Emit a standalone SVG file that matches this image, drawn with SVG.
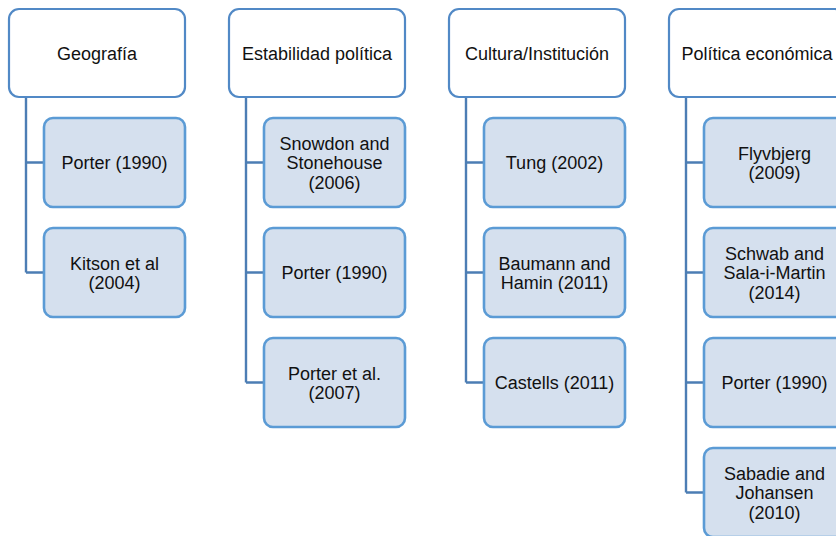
<svg xmlns="http://www.w3.org/2000/svg" width="836" height="536" viewBox="0 0 836 536">
  <style>
    .head { fill: #ffffff; stroke: #5189C6; stroke-width: 2.2; }
    .item { fill: #D5E0EE; stroke: #5B9BD5; stroke-width: 2.6; }
    .link { fill: none; stroke: #4C7DB4; stroke-width: 2.4; }
    text { font-family: "Liberation Sans", Arial, sans-serif; font-size: 18px; fill: #111111; text-anchor: middle; }
  </style>
  <rect width="836" height="536" fill="#ffffff"/>

  <!-- tree connectors -->
  <g id="connectors">
    <path class="link" d="M26 97 V272.5 M26 162.5 H44 M26 272.5 H44"/>
    <path class="link" d="M246 97 V382.5 M246 162.5 H264 M246 272.5 H264 M246 382.5 H264"/>
    <path class="link" d="M466 97 V382.5 M466 162.5 H484 M466 272.5 H484 M466 382.5 H484"/>
    <path class="link" d="M686 97 V492.5 M686 162.5 H704 M686 272.5 H704 M686 382.5 H704 M686 492.5 H704"/>
  </g>

  <!-- column 1 -->
  <g id="geografia">
    <rect class="head" x="9" y="9" width="176" height="88" rx="10"/>
    <text x="97" y="59.5">Geografía</text>
  </g>
  <g id="geo-porter">
    <rect class="item" x="44" y="118" width="141" height="89" rx="9"/>
    <text x="114.5" y="169">Porter (1990)</text>
  </g>
  <g id="geo-kitson">
    <rect class="item" x="44" y="228" width="141" height="89" rx="9"/>
    <text x="114.5" y="269.5">Kitson et al</text>
    <text x="114.5" y="289">(2004)</text>
  </g>

  <!-- column 2 -->
  <g id="estabilidad">
    <rect class="head" x="229" y="9" width="176" height="88" rx="10"/>
    <text x="317" y="59.5">Estabilidad política</text>
  </g>
  <g id="est-snowdon">
    <rect class="item" x="264" y="118" width="141" height="89" rx="9"/>
    <text x="334.5" y="149.5">Snowdon and</text>
    <text x="334.5" y="169">Stonehouse</text>
    <text x="334.5" y="188.5">(2006)</text>
  </g>
  <g id="est-porter">
    <rect class="item" x="264" y="228" width="141" height="89" rx="9"/>
    <text x="334.5" y="279">Porter (1990)</text>
  </g>
  <g id="est-porter-2007">
    <rect class="item" x="264" y="338" width="141" height="89" rx="9"/>
    <text x="334.5" y="379.5">Porter et al.</text>
    <text x="334.5" y="399">(2007)</text>
  </g>

  <!-- column 3 -->
  <g id="cultura">
    <rect class="head" x="449" y="9" width="176" height="88" rx="10"/>
    <text x="537" y="59.5">Cultura/Institución</text>
  </g>
  <g id="cul-tung">
    <rect class="item" x="484" y="118" width="141" height="89" rx="9"/>
    <text x="554.5" y="169">Tung (2002)</text>
  </g>
  <g id="cul-baumann">
    <rect class="item" x="484" y="228" width="141" height="89" rx="9"/>
    <text x="554.5" y="269.5">Baumann and</text>
    <text x="554.5" y="289">Hamin (2011)</text>
  </g>
  <g id="cul-castells">
    <rect class="item" x="484" y="338" width="141" height="89" rx="9"/>
    <text x="554.5" y="389">Castells (2011)</text>
  </g>

  <!-- column 4 -->
  <g id="politica">
    <rect class="head" x="669" y="9" width="176" height="88" rx="10"/>
    <text x="757" y="59.5">Política económica</text>
  </g>
  <g id="pol-flyvbjerg">
    <rect class="item" x="704" y="118" width="141" height="89" rx="9"/>
    <text x="774.5" y="159.5">Flyvbjerg</text>
    <text x="774.5" y="179">(2009)</text>
  </g>
  <g id="pol-schwab">
    <rect class="item" x="704" y="228" width="141" height="89" rx="9"/>
    <text x="774.5" y="259.5">Schwab and</text>
    <text x="774.5" y="279">Sala-i-Martin</text>
    <text x="774.5" y="298.5">(2014)</text>
  </g>
  <g id="pol-porter">
    <rect class="item" x="704" y="338" width="141" height="89" rx="9"/>
    <text x="774.5" y="389">Porter (1990)</text>
  </g>
  <g id="pol-sabadie">
    <rect class="item" x="704" y="448" width="141" height="89" rx="9"/>
    <text x="774.5" y="479.5">Sabadie and</text>
    <text x="774.5" y="499">Johansen</text>
    <text x="774.5" y="518.5">(2010)</text>
  </g>
</svg>
